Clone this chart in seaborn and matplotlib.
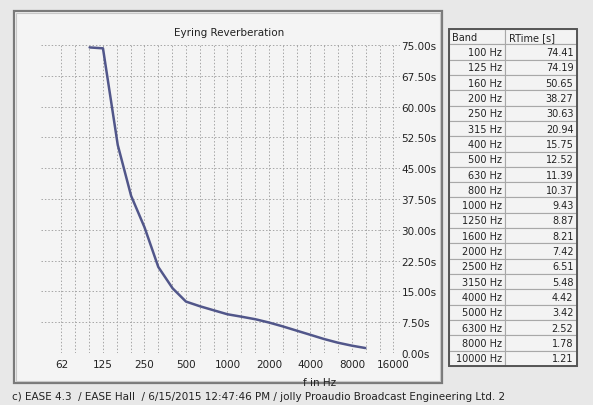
import numpy as np
import pandas as pd
import matplotlib
matplotlib.use("Agg")
import matplotlib.pyplot as plt
import seaborn as sns
from matplotlib.patches import Rectangle

# -------------------------
# DATA
# -------------------------
bands = [100, 125, 160, 200, 250, 315, 400, 500, 630, 800, 1000,
         1250, 1600, 2000, 2500, 3150, 4000, 5000, 6300, 8000, 10000]
rtime = [74.41, 74.19, 50.65, 38.27, 30.63, 20.94, 15.75, 12.52, 11.39, 10.37, 9.43,
         8.87, 8.21, 7.42, 6.51, 5.48, 4.42, 3.42, 2.52, 1.78, 1.21]
xticks = [62.5, 125, 250, 500, 1000, 2000, 4000, 8000, 16000]
xtick_labels = ["62", "125", "250", "500", "1000", "2000", "4000", "8000", "16000"]
yticks = [0, 7.5, 15, 22.5, 30, 37.5, 45, 52.5, 60, 67.5, 75]

df = pd.DataFrame({"f": bands, "rt": rtime})

W, H = 593, 406
sns.set_style("white")
plt.rcParams["font.family"] = ["DejaVu Sans"]

fig = plt.figure(figsize=(W / 100, H / 100), dpi=100)
fig.patch.set_facecolor("#e8e8e8")

def px(x0, y0, x1, y1):
    # pixel box (top-left origin) -> figure fraction rect
    return [x0 / W, 1 - y1 / H, (x1 - x0) / W, (y1 - y0) / H]

# panel frame (behind the axes)
r = px(14, 12, 442, 384)
fig.patches.append(Rectangle((r[0], r[1]), r[2], r[3], transform=fig.transFigure,
                             facecolor="#f4f4f4", edgecolor="#7a7a7a", lw=1.6, zorder=-10))
r = px(16, 14, 440, 382)
fig.patches.append(Rectangle((r[0], r[1]), r[2], r[3], transform=fig.transFigure,
                             facecolor="none", edgecolor="#c8c8c8", lw=0.8, zorder=-9))

# -------------------------
# CURVE
# -------------------------
ax = fig.add_axes(px(41, 46, 400, 354))
ax.set_facecolor("none")
ax.set_xscale("log", base=2)
ax.set_xlim(44.4, 17840)
ax.set_ylim(0, 75)

grid_f = 62.5 * 2 ** (np.arange(25) / 3)
for g in grid_f:
    ax.plot([g, g], [0, 75], color="#a6a6a6", lw=0.7, ls=(0, (1.5, 2)), zorder=1)
for yv in yticks:
    ax.axhline(yv, color="#a6a6a6", lw=0.7, ls=(0, (1.5, 2)), zorder=1)

sns.lineplot(data=df, x="f", y="rt", ax=ax, color="#51568a", lw=1.8, zorder=3)
ax.lines[-1].set_clip_on(False)

for s in ax.spines.values():
    s.set_visible(False)
ax.set_xticks(xticks)
ax.set_xticklabels(xtick_labels)
ax.minorticks_off()
ax.yaxis.tick_right()
ax.set_yticks(yticks)
ax.set_yticklabels([f"{v:.2f}s" for v in yticks])
ax.tick_params(axis="both", length=0, labelsize=7.5, colors="#222222")
ax.tick_params(axis="x", pad=4)
ax.tick_params(axis="y", pad=1)
ax.set_ylabel("")
ax.set_xlabel("f in Hz", fontsize=7.5, color="#222222")
ax.xaxis.set_label_coords((320 - 41) / 359, -(378 - 354) / 308)

fig.text(229 / W, 1 - 33 / H, "Eyring Reverberation", ha="center", va="center",
         fontsize=7.5, color="#222222")

# -------------------------
# TABLE
# -------------------------
tax = fig.add_axes(px(449, 30, 577, 367))
tax.axis("off")
cells = [[f"{b} Hz", f"{v:.2f}"] for b, v in zip(bands, rtime)]
tb = tax.table(cellText=cells, colLabels=["Band", "RTime [s]"], cellLoc="right",
               colLoc="left", colWidths=[56 / 128, 72 / 128], bbox=[0, 0, 1, 1])
tb.auto_set_font_size(False)
tb.set_fontsize(7)
for (ri, ci), c in tb.get_celld().items():
    c.PAD = 0.05
    c.set_facecolor("#f3f3f3")
    c.set_edgecolor("#a8a8a8")
    c.set_linewidth(0.8)
    c.get_text().set_color("#222222")
r = px(449, 30, 577, 367)
fig.patches.append(Rectangle((r[0], r[1]), r[2], r[3], transform=fig.transFigure,
                             facecolor="none", edgecolor="#555555", lw=1.4, zorder=5))

fig.text(12 / W, 1 - 397 / H,
         "c) EASE 4.3  / EASE Hall  / 6/15/2015 12:47:46 PM / jolly Proaudio Broadcast Engineering Ltd. 2",
         ha="left", va="center", fontsize=7.5, color="#222222")

fig.savefig("out.png", dpi=100, facecolor=fig.get_facecolor())
